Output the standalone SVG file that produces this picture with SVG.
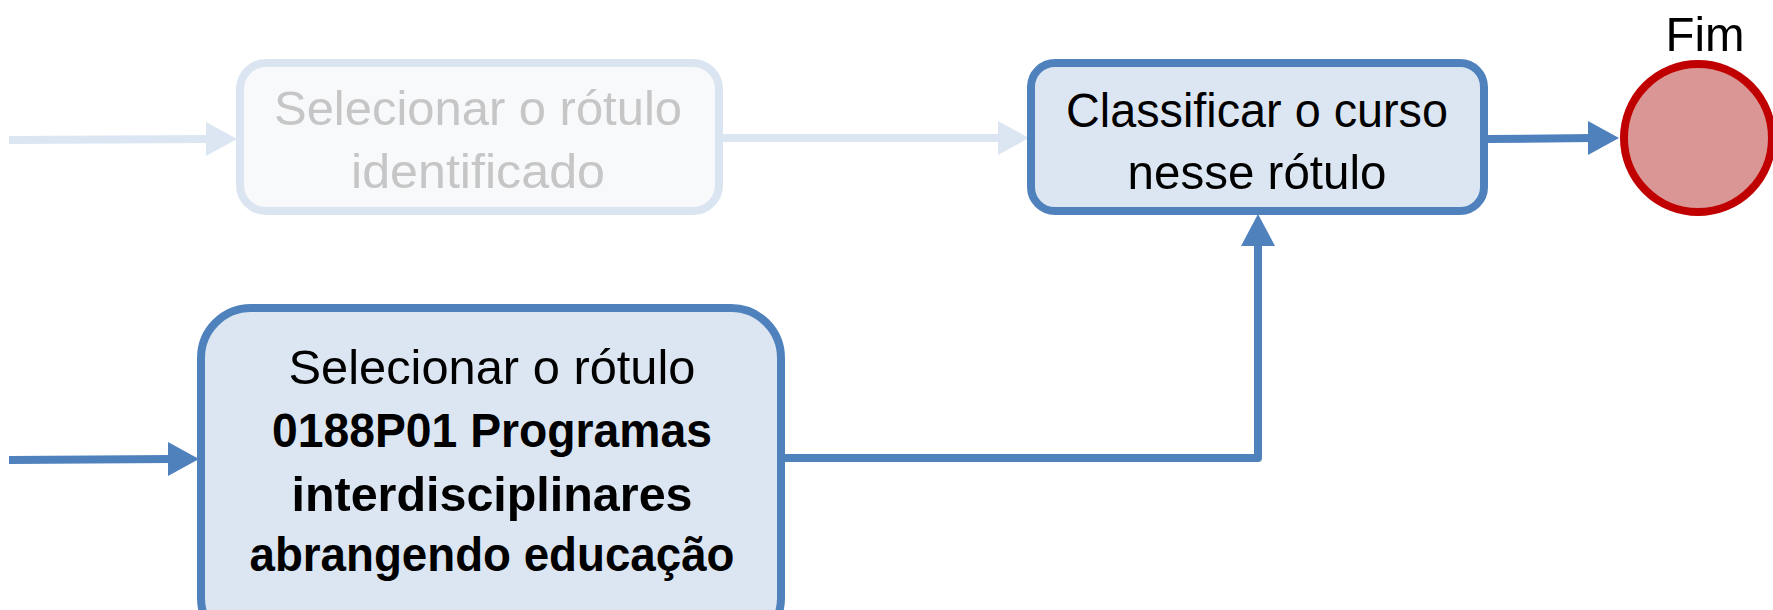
<svg xmlns="http://www.w3.org/2000/svg" width="1773" height="610" viewBox="0 0 1773 610">
<style>
text{font-family:"Liberation Sans",Arial,sans-serif;font-size:49px;text-anchor:middle}
.gt{fill:#c6c6c6}
.bt{fill:#000}
.b{font-weight:bold}
.fade{fill:#f8f9fb;stroke:#dbe5f1;stroke-width:8}
.box{fill:#dce6f2;stroke:#4f81bd;stroke-width:8}
.fl{stroke:#dce6f2;stroke-width:8;fill:none}
.fh{fill:#dce6f2}
.ln{stroke:#4f81bd;stroke-width:8;fill:none;stroke-linejoin:round}
.hd{fill:#4f81bd}
</style>
<rect width="1773" height="610" fill="#fff"/>
<g id="connectors">
<line class="fl" x1="9" y1="140" x2="212" y2="139"/>
<polygon class="fh" points="206,122 237,139 206,156"/>
<line class="fl" x1="722" y1="138" x2="1004" y2="138"/>
<polygon class="fh" points="998,121 1029,138 998,155"/>
<line class="ln" x1="1487" y1="139" x2="1594" y2="138"/>
<polygon class="hd" points="1588,121 1619,138 1588,155"/>
<line class="ln" x1="9" y1="460" x2="174" y2="459"/>
<polygon class="hd" points="168,442 199,459 168,476"/>
<polyline class="ln" points="784,458 1258,458 1258,240"/>
<polygon class="hd" points="1241,246 1258,214 1275,246"/>
</g>
<g id="node-selecionar-identificado">
<rect class="fade" x="240" y="63" width="479" height="148" rx="26"/>
<text class="gt" x="478" y="125" textLength="408" lengthAdjust="spacingAndGlyphs">Selecionar o rótulo</text>
<text class="gt" x="478" y="188" textLength="254" lengthAdjust="spacingAndGlyphs">identificado</text>
</g>
<g id="node-classificar">
<rect class="box" x="1031" y="63" width="453" height="148" rx="24"/>
<text class="bt" x="1257" y="127" textLength="382" lengthAdjust="spacingAndGlyphs">Classificar o curso</text>
<text class="bt" x="1257" y="189" textLength="259" lengthAdjust="spacingAndGlyphs">nesse rótulo</text>
</g>
<g id="node-fim">
<circle cx="1698" cy="138" r="74" fill="#d99694" stroke="#c00000" stroke-width="8"/>
<text class="bt" x="1705" y="51" textLength="79" lengthAdjust="spacingAndGlyphs">Fim</text>
</g>
<g id="node-selecionar-0188P01">
<rect class="box" x="201" y="308" width="580" height="340" rx="50"/>
<text class="bt" x="492" y="384" textLength="407" lengthAdjust="spacingAndGlyphs">Selecionar o rótulo</text>
<text class="bt b" x="492" y="447" textLength="440" lengthAdjust="spacingAndGlyphs">0188P01 Programas</text>
<text class="bt b" x="492" y="511" textLength="401" lengthAdjust="spacingAndGlyphs">interdisciplinares</text>
<text class="bt b" x="492" y="571" textLength="485" lengthAdjust="spacingAndGlyphs">abrangendo educação</text>
</g>
</svg>
